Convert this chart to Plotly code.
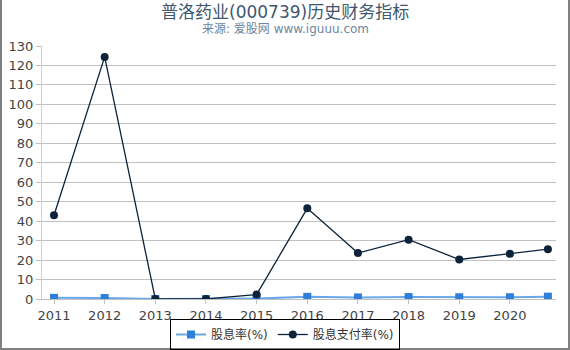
import plotly.graph_objects as go

years = [2011, 2012, 2013, 2014, 2015, 2016, 2017, 2018, 2019, 2020, 2020.75]
tick_years = [2011, 2012, 2013, 2014, 2015, 2016, 2017, 2018, 2019, 2020]
tick_labels = [str(y) for y in tick_years]
dividend_yield = [0.6, 0.5, 0.0, 0.0, 0.2, 1.1, 0.8, 1.0, 0.9, 0.9, 1.2]
payout_ratio = [43.0, 124.4, 0.0, 0.0, 2.3, 46.6, 23.6, 30.5, 20.3, 23.2, 25.6]
y_ticks = list(range(0, 131, 10))

FONT = "DejaVu Sans, Noto Sans CJK SC, sans-serif"

fig = go.Figure()
fig.add_trace(go.Scatter(
    x=years, y=dividend_yield, name="股息率(%)", mode="lines+markers",
    line=dict(color="#6aa6ea", width=2),
    marker=dict(symbol="square", size=8, color="#2f7ed8"),
))
fig.add_trace(go.Scatter(
    x=years, y=payout_ratio, name="股息支付率(%)", mode="lines+markers",
    line=dict(color="#0d233a", width=1.3),
    marker=dict(symbol="circle", size=8, color="#0d233a"),
))

L, R, T, B = 42, 14, 46, 51
W, H = 570, 350
pw, ph = W - L - R, H - T - B

fig.update_layout(
    width=W, height=H,
    margin=dict(l=L, r=R, t=T, b=B, autoexpand=False),
    paper_bgcolor="white", plot_bgcolor="white",
    font=dict(family=FONT, size=13, color="#444"),
    showlegend=True,
    legend=dict(
        orientation="h", x=(285 - L) / pw, xanchor="center",
        y=(T + ph - 350) / ph, yanchor="bottom",
        bordercolor="black", borderwidth=1, bgcolor="rgba(255,255,255,0)",
        font=dict(size=12, color="#333"),
        itemwidth=30, tracegroupgap=0,
    ),
    xaxis=dict(
        range=[2010.763, 2020.91], tickvals=tick_years, ticktext=tick_labels,
        showgrid=False, showline=True, linecolor="#c0c0c0", linewidth=1,
        ticks="outside", ticklen=4, tickcolor="#c0c0c0", automargin=False,
        tickfont=dict(size=13, color="#444"), zeroline=False,
    ),
    yaxis=dict(
        range=[0, 130], tickvals=y_ticks,
        showgrid=True, gridcolor="#c0c0c0", gridwidth=1,
        showline=True, linecolor="#c0d0e0", linewidth=1,
        ticks="outside", ticklen=5, tickcolor="#c0c0c0", automargin=False,
        tickfont=dict(size=13, color="#444"), zeroline=False,
    ),
    annotations=[
        dict(text="普洛药业(000739)历史财务指标", x=(285 - L) / pw, y=(T + ph - 12) / ph,
             xref="paper", yref="paper", xanchor="center", yanchor="middle",
             showarrow=False, font=dict(size=17, color="#3e576f", family=FONT)),
        dict(text="来源: 爱股网 www.iguuu.com", x=(285 - L) / pw, y=(T + ph - 29) / ph,
             xref="paper", yref="paper", xanchor="center", yanchor="middle",
             showarrow=False, font=dict(size=12, color="#6d869f", family=FONT)),
    ],
)

# outer frame (left, bottom, right)
fx0, fx1 = -L / pw, (W - L) / pw
fy0, fy1 = -(B) / ph, (H - T) / ph
for x0, y0, x1, y1 in [(fx0, fy0, fx0, fy1), (fx0, fy0, fx1, fy0), (fx1, fy0, fx1, fy1)]:
    fig.add_shape(type="line", xref="paper", yref="paper", x0=x0, y0=y0, x1=x1, y1=y1,
                  line=dict(color="#808080", width=4), layer="above")

fig.write_html("out.html")
